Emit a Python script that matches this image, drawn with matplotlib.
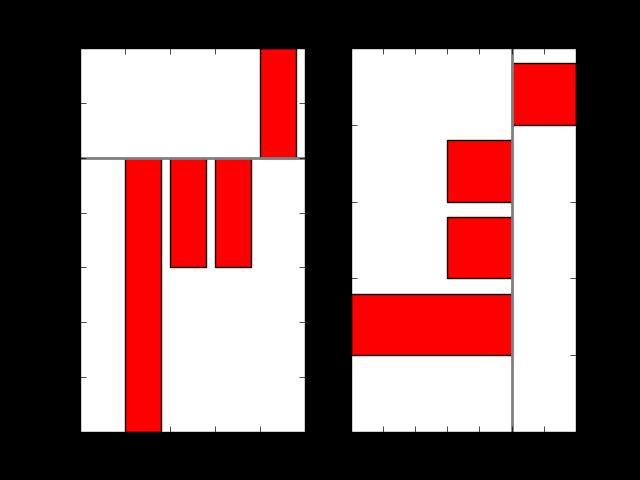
import matplotlib
matplotlib.use('Agg')
import matplotlib.pyplot as plt

plt.style.use('classic')

# bar positions and values
positions = [1, 2, 3, 4]
values = [-5, -2, -2, 2]

fig = plt.figure(figsize=(6.4, 4.8), dpi=100, facecolor='black')

# vertical bars
ax1 = fig.add_subplot(1, 2, 1)
ax1.bar(positions, values, width=0.8, align='edge', color='red', edgecolor='black')
ax1.axhline(0, color='gray', linewidth=2)
ax1.set_xlim(0, 5)
ax1.set_ylim(min(values), max(values))

# horizontal bars
ax2 = fig.add_subplot(1, 2, 2)
ax2.barh(positions, values, height=0.8, align='edge', color='red', edgecolor='black')
ax2.axvline(0, color='gray', linewidth=2)
ax2.set_ylim(0, 5)
ax2.set_xlim(min(values), max(values))

for ax in (ax1, ax2):
    ax.tick_params(colors='black', labelcolor='black')
    for sp in ax.spines.values():
        sp.set_color('black')

fig.savefig('out.png', dpi=100, facecolor='black')
